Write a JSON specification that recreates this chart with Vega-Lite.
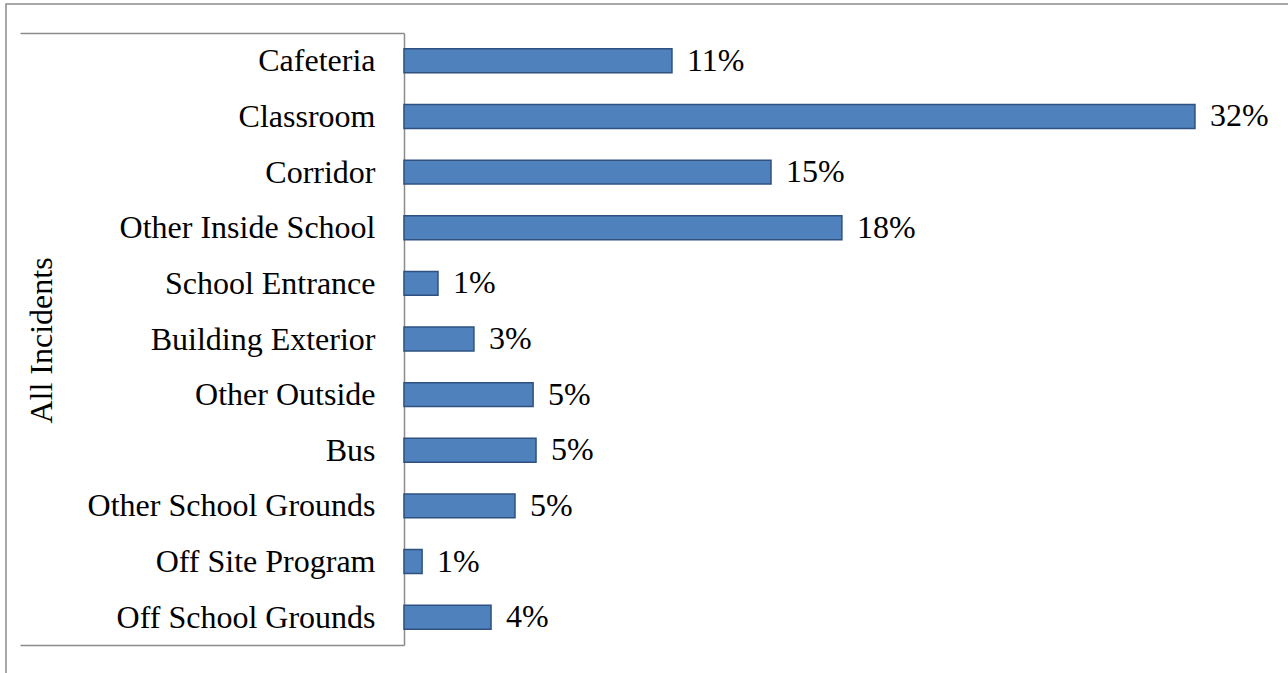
{
  "$schema": "https://vega.github.io/schema/vega-lite/v6.json",
  "width": 1300,
  "height": 700,
  "autosize": "none",
  "padding": {"left": 6, "top": 4, "right": 0, "bottom": 0},
  "background": "white",
  "config": {
    "view": {"stroke": "#8c8c8c", "strokeWidth": 1.5},
    "font": "Liberation Serif"
  },
  "data": {
    "values": [
      {"location": "Cafeteria", "share": 0.1096},
      {"location": "Classroom", "share": 0.3235},
      {"location": "Corridor", "share": 0.1501},
      {"location": "Other Inside School", "share": 0.1791},
      {"location": "School Entrance", "share": 0.0139},
      {"location": "Building Exterior", "share": 0.0286},
      {"location": "Other Outside", "share": 0.0528},
      {"location": "Bus", "share": 0.0540},
      {"location": "Other School Grounds", "share": 0.0454},
      {"location": "Off Site Program", "share": 0.0074},
      {"location": "Off School Grounds", "share": 0.0356}
    ]
  },
  "encoding": {
    "y": {
      "field": "location",
      "type": "nominal",
      "sort": null,
      "scale": {"range": [29, 641], "paddingInner": 0, "paddingOuter": 0},
      "axis": {
        "orient": "left",
        "offset": -398,
        "title": "All Incidents",
        "titleFont": "Liberation Serif",
        "titleFontSize": 32,
        "titleFontWeight": "normal",
        "titleColor": "black",
        "titleAngle": -90,
        "titleAlign": "center",
        "titleBaseline": "middle",
        "titleX": -363,
        "titleY": 336,
        "labelFont": "Liberation Serif",
        "labelFontSize": 32,
        "labelColor": "black",
        "labelPadding": -355,
        "labelLimit": 500,
        "domainColor": "#8c8c8c",
        "domainWidth": 1.5,
        "tickBand": "extent",
        "tickSize": 384,
        "tickWidth": 1.5,
        "tickColor": {"condition": {"test": "datum.index < 0 || datum.index >= 1", "value": "#8c8c8c"}, "value": "transparent"}
      }
    },
    "x": {
      "field": "share",
      "type": "quantitative",
      "scale": {"domain": [0, 0.3272], "range": [398, 1198], "nice": false, "zero": true},
      "axis": null
    }
  },
  "layer": [
    {
      "mark": {"type": "bar", "height": {"band": 0.43}, "fill": "#4F81BD", "stroke": "#2E5180", "strokeWidth": 1.5}
    },
    {
      "mark": {"type": "text", "align": "left", "baseline": "middle", "dx": 15, "font": "Liberation Serif", "fontSize": 32, "color": "black"},
      "encoding": {
        "text": {"field": "share", "type": "quantitative", "format": ".0%"}
      }
    }
  ]
}
